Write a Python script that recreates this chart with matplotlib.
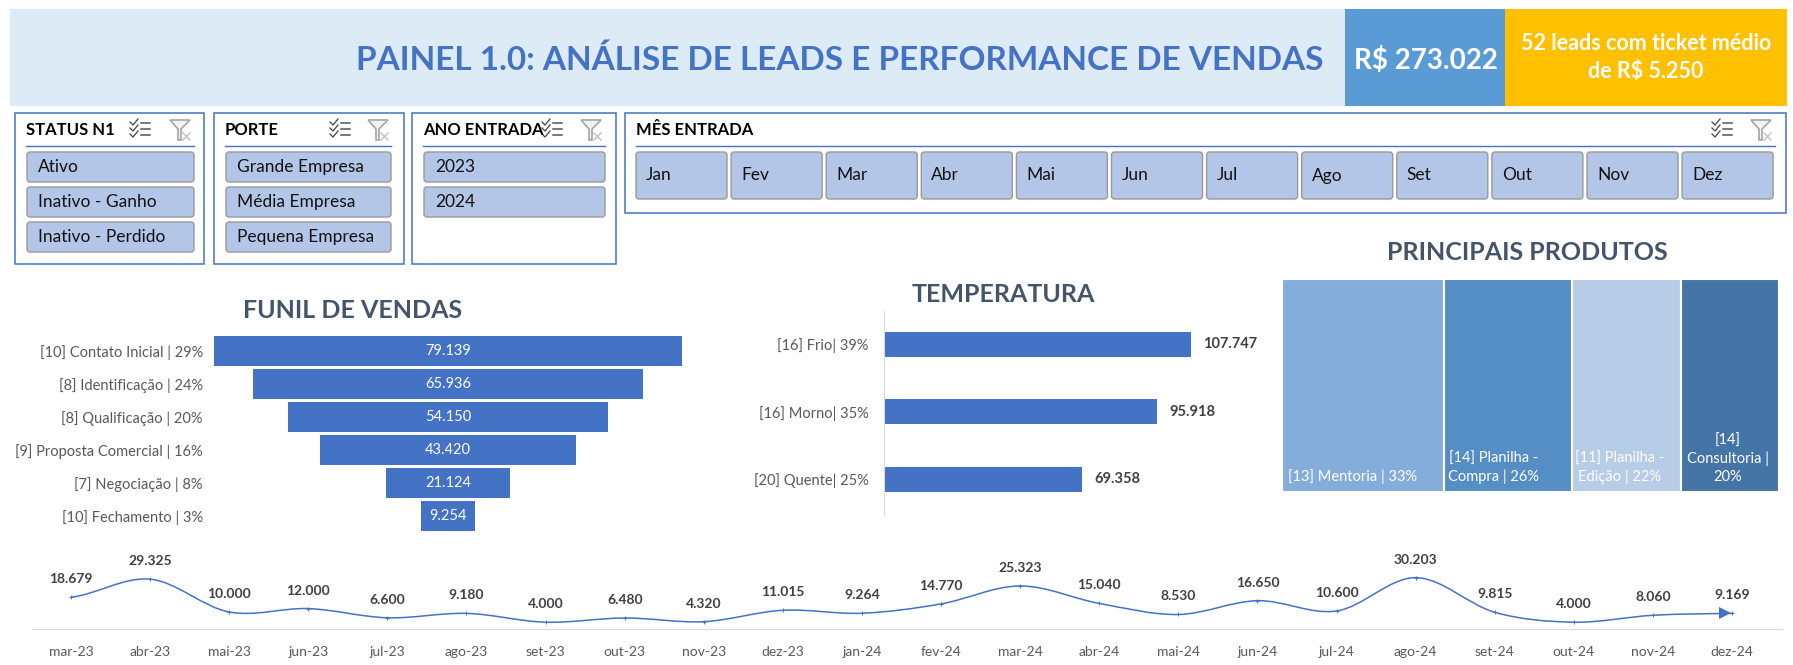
import numpy as np
import matplotlib
matplotlib.use("Agg")
import matplotlib.pyplot as plt
from matplotlib.patches import Rectangle, FancyBboxPatch, PathPatch, Polygon
from matplotlib.path import Path

plt.rcParams['font.family'] = ['Lato', 'DejaVu Sans']

W, H = 1793, 665

# funnel
funil_labels = ["[10] Contato Inicial | 29%", "[8] Identificação | 24%", "[8] Qualificação | 20%",
                "[9] Proposta Comercial | 16%", "[7] Negociação | 8%", "[10] Fechamento | 3%"]
funil_values = [79139, 65936, 54150, 43420, 21124, 9254]

# temperature
temp_labels = ["[16] Frio| 39%", "[16] Morno| 35%", "[20] Quente| 25%"]
temp_values = [107747, 95918, 69358]

# products
prod_shares = [33, 26, 22, 20]
prod_colors = ["#85ADDB", "#548EC4", "#B7CCE6", "#4575A6"]
prod_labels = ["[13] Mentoria | 33%", "[14] Planilha -\nCompra | 26%",
               "[11] Planilha -\nEdição | 22%", "[14]\nConsultoria |\n20%"]

# monthly line
meses = ["mar-23", "abr-23", "mai-23", "jun-23", "jul-23", "ago-23", "set-23", "out-23", "nov-23", "dez-23", "jan-24",
         "fev-24", "mar-24", "abr-24", "mai-24", "jun-24", "jul-24", "ago-24", "set-24", "out-24", "nov-24", "dez-24"]
vendas = [18679, 29325, 10000, 12000, 6600, 9180, 4000, 6480, 4320, 11015, 9264,
          14770, 25323, 15040, 8530, 16650, 10600, 30203, 9815, 4000, 8060, 9169]

# slicers
status_items = ["Ativo", "Inativo - Ganho", "Inativo - Perdido"]
porte_items = ["Grande Empresa", "Média Empresa", "Pequena Empresa"]
ano_items = ["2023", "2024"]
mes_items = ["Jan", "Fev", "Mar", "Abr", "Mai", "Jun", "Jul", "Ago", "Set", "Out", "Nov", "Dez"]

BLUE = "#4472C4"
TITLE = "#44546A"
GREY = "#595959"


def fmt(v):
    return f"{v:,}".replace(",", ".")


def axes_px(x0, y0, x1, y1):
    return fig.add_axes([x0 / W, 1 - y1 / H, (x1 - x0) / W, (y1 - y0) / H])


def label(x, y, s, size=11, color="black", weight="normal", ha="left", **kw):
    fig.text(x / W, 1 - y / H, s, fontsize=size, color=color, fontweight=weight,
             ha=ha, va="center", **kw)


fig = plt.figure(figsize=(W / 100, H / 100), dpi=100)
page = fig.add_axes([0, 0, 1, 1])
page.set_xlim(0, W)
page.set_ylim(H, 0)
page.axis("off")

# header
page.add_patch(Rectangle((10, 9), 1335, 97, fc="#DDEBF7", ec="none"))
page.add_patch(Rectangle((1345, 9), 160, 97, fc="#5B9BD5", ec="none"))
page.add_patch(Rectangle((1505, 9), 282, 97, fc="#FFC000", ec="none"))
label(840, 60, "PAINEL 1.0: ANÁLISE DE LEADS E PERFORMANCE DE VENDAS", size=24, color=BLUE, weight="bold", ha="center")
label(1426, 61, "R$ 273.022", size=20, color="white", weight="bold", ha="center")
label(1646, 43, "52 leads com ticket médio", size=15.5, color="white", weight="bold", ha="center")
label(1646, 72, "de R$ 5.250", size=15.5, color="white", weight="bold", ha="center")


def icons(x_list, x_filter):
    # multi select
    for k, yy in enumerate([123, 129, 135]):
        page.plot([x_list, x_list + 3, x_list + 8], [yy - 1, yy + 2, yy - 4], color="#444444", lw=0.9)
        page.plot([x_list + 11, x_list + 20], [yy, yy], color="#555555", lw=1.1)
    # clear filter
    page.add_patch(Polygon([(x_filter, 120), (x_filter + 20, 120), (x_filter + 11, 129), (x_filter + 11, 140),
                            (x_filter + 8, 140), (x_filter + 8, 129)], fc="#F2F2F2", ec="#A6A6A6", lw=1.2))
    page.plot([x_filter + 13, x_filter + 20], [133, 140], color="#BFBFBF", lw=1)
    page.plot([x_filter + 13, x_filter + 20], [140, 133], color="#BFBFBF", lw=1)


def button(x0, y0, x1, y1, text, text_x):
    page.add_patch(FancyBboxPatch((x0 + 2, y0 + 2), x1 - x0 - 4, y1 - y0 - 4, boxstyle="round,pad=2,rounding_size=3",
                                  fc="#B4C6E7", ec="#999999", lw=1))
    label(text_x, (y0 + y1) / 2, text, size=12.5, color="#111111")


def slicer(x0, x1, title, items, line0, line1, list_x, filter_x):
    page.add_patch(Rectangle((x0, 113), x1 - x0, 151, fc="white", ec=BLUE, lw=1.1))
    label(line0, 130, title, size=12, weight="bold")
    page.plot([line0, line1], [146, 146], color=BLUE, lw=1)
    icons(list_x, filter_x)
    for i, item in enumerate(items):
        y0 = 152 + 35 * i
        button(line0 + 1, y0, line1, y0 + 30, item, line0 + 12)


slicer(15, 204, "STATUS N1", status_items, 26, 194, 130, 170)
slicer(214, 404, "PORTE", porte_items, 225, 391, 330, 368)
slicer(412, 616, "ANO ENTRADA", ano_items, 423, 605, 542, 581)

page.add_patch(Rectangle((625, 113), 1161, 100, fc="white", ec=BLUE, lw=1.1))
label(636, 130, "MÊS ENTRADA", size=12, weight="bold")
page.plot([636, 1775], [146, 146], color=BLUE, lw=1)
icons(1712, 1751)
for i, m in enumerate(mes_items):
    x0 = 636 + 95.1 * i
    button(x0, 152, x0 + 91, 199, m, x0 + 10)

# funnel chart
label(353, 311, "FUNIL DE VENDAS", size=18, color=TITLE, weight="bold", ha="center")
ax = axes_px(214, 334.5, 682, 532.5)
half = funil_values[0] / 2
pos = np.arange(len(funil_values))
bars = ax.barh(pos, funil_values, left=[-v / 2 for v in funil_values], height=0.91, color=BLUE)
ax.bar_label(bars, labels=[fmt(v) for v in funil_values], label_type="center", color="white", fontsize=10.5)
ax.set_xlim(-half, half)
ax.set_ylim(len(funil_values) - 0.5, -0.5)
ax.set_yticks(pos, funil_labels, fontsize=10.5, color=GREY)
ax.set_xticks([])
ax.tick_params(axis="y", length=0, pad=8)
for s in ax.spines.values():
    s.set_visible(False)
ax.patch.set_alpha(0)

# temperature chart
label(1003, 294, "TEMPERATURA", size=18, color=TITLE, weight="bold", ha="center")
ax = axes_px(884, 311, 1191, 515)
pos = np.arange(len(temp_values))
bars = ax.barh(pos, temp_values, height=0.37, color=BLUE)
ax.bar_label(bars, labels=[fmt(v) for v in temp_values], padding=9, color="#404040", fontsize=10.5, fontweight="bold")
ax.set_xlim(0, temp_values[0])
ax.set_ylim(2.53, -0.49)
ax.set_yticks(pos, temp_labels, fontsize=10.5, color=GREY)
ax.set_xticks([])
ax.tick_params(axis="y", length=0, pad=11)
for s in ["top", "right", "bottom"]:
    ax.spines[s].set_visible(False)
ax.spines["left"].set_color("#D9D9D9")
ax.patch.set_alpha(0)

# products treemap
label(1527, 252, "PRINCIPAIS PRODUTOS", size=18, color=TITLE, weight="bold", ha="center")
ax = axes_px(1282, 279, 1779, 492)
lefts = np.concatenate([[0], np.cumsum(prod_shares)[:-1]])
ax.bar(lefts, 1, width=prod_shares, align="edge", color=prod_colors, edgecolor="white", lw=1.5)
ax.set_xlim(0, sum(prod_shares))
ax.set_ylim(0, 1)
ax.axis("off")
label(1288, 477, prod_labels[0], size=10.5, color="white")
fig.text(1494 / W, 1 - 468 / H, prod_labels[1], fontsize=10.5, color="white", ha="center", va="center", linespacing=1.35)
fig.text(1620 / W, 1 - 468 / H, prod_labels[2], fontsize=10.5, color="white", ha="center", va="center", linespacing=1.35)
fig.text(1728 / W, 1 - 459 / H, prod_labels[3], fontsize=10.5, color="white", ha="center", va="center", linespacing=1.35)

# monthly line
ax = axes_px(32, 560, 1782, 629)
x = np.arange(len(vendas))
y = np.array(vendas, dtype=float)
verts = [(x[0], y[0])]
codes = [Path.MOVETO]
for i in range(len(x) - 1):
    ym = y[max(i - 1, 0)]
    yp = y[min(i + 2, len(y) - 1)]
    verts += [(x[i] + 1 / 3, y[i] + (y[i + 1] - ym) / 6), (x[i + 1] - 1 / 3, y[i + 1] - (yp - y[i]) / 6), (x[i + 1], y[i + 1])]
    codes += [Path.CURVE4] * 3
ax.add_patch(PathPatch(Path(verts, codes), fc="none", ec=BLUE, lw=1.1))
ax.plot(x, y, ls="none", marker="+", ms=3, mew=0.7, color=BLUE)
ax.plot(x[-1] - 0.09, y[-1], marker=">", ms=8, color=BLUE, mew=0)
for xi, yi in zip(x, y):
    ax.annotate(fmt(vendas[xi]), (xi, yi), xytext=(0, 13), textcoords="offset points", ha="center", va="center",
                fontsize=10, fontweight="bold", color="#404040", annotation_clip=False)
ax.set_xlim((32 - 71) / 79.1, (1782 - 71) / 79.1)
ax.set_ylim(0, 40588)
ax.set_yticks([])
ax.set_xticks(x, meses, fontsize=10, color=GREY)
ax.tick_params(axis="x", length=0, pad=12)
for s in ["top", "left", "right"]:
    ax.spines[s].set_visible(False)
ax.spines["bottom"].set_color("#D9D9D9")
ax.patch.set_alpha(0)

fig.savefig("out.png", dpi=100)
